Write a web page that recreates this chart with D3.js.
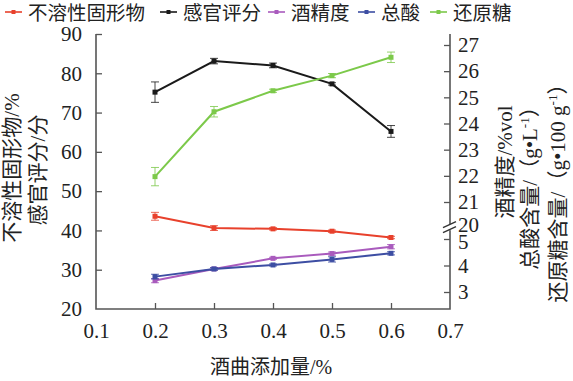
<!DOCTYPE html>
<html><head><meta charset="utf-8">
<script src="https://cdn.jsdelivr.net/npm/d3@7"></script>
<style>
html,body{margin:0;padding:0;background:#fff;}
svg{display:block;}
text{font-family:"Liberation Serif","Noto Sans CJK SC",serif;fill:#222;}
</style></head>
<body>
<svg id="c" width="573" height="381"></svg>
<script>
// ---- data ----
const doses = [0.2, 0.3, 0.4, 0.5, 0.6];
const solids = [43.6, 40.6, 40.4, 39.8, 38.2];
const solidsErr = [1.0, 0.6, 0.3, 0.3, 0.3];
const sensory = [75.2, 83.1, 82.0, 77.3, 65.2];
const sensoryErr = [2.6, 0.7, 0.6, 0.3, 1.5];
const alcohol = [3.43, 3.87, 4.27, 4.45, 4.71];
const alcoholErr = [0.08, 0.05, 0.04, 0.06, 0.08];
const acid = [3.58, 3.87, 4.02, 4.23, 4.46];
const acidErr = [0.09, 0.05, 0.04, 0.1, 0.06];
const sugar = [21.97, 24.45, 25.25, 25.83, 26.53];
const sugarErr = [0.35, 0.2, 0.06, 0.08, 0.2];

const xTicks = [0.1, 0.2, 0.3, 0.4, 0.5, 0.6, 0.7];
const leftTicks = [20, 30, 40, 50, 60, 70, 80, 90];
const rightLowTicks = [3, 4, 5];
const rightHighTicks = [20, 21, 22, 23, 24, 25, 26, 27];

const legendNames = ["不溶性固形物", "感官评分", "酒精度", "总酸", "还原糖"];
const colors = ["#e8412c", "#1a1a1a", "#a95bbd", "#3d4ea3", "#7cc94a"];

// ---- layout ----
const svg = d3.select("#c");
const L = 96, R = 450, T = 34, B = 309;
const x = d3.scaleLinear().domain([0.1, 0.7]).range([L, R]);
const yL = d3.scaleLinear().domain([20, 90]).range([B, T]);
const yLow = d3.scaleLinear().domain([3, 5]).range([292, 239]);
const yHigh = d3.scaleLinear().domain([21, 27]).range([202, 45]);
const axisColor = "#555";
const intFmt = d3.format("d");

// axes
const gx = svg.append("g").attr("transform", `translate(0,${B})`)
  .call(d3.axisBottom(x).tickValues(xTicks).tickSize(-6).tickPadding(14).tickFormat(d3.format(".1f")));
const gl = svg.append("g").attr("transform", `translate(${L},0)`)
  .call(d3.axisLeft(yL).tickValues(leftTicks).tickSize(-6).tickPadding(14).tickFormat(intFmt));
const gr1 = svg.append("g").attr("transform", `translate(${R},0)`)
  .call(d3.axisRight(yLow).tickValues(rightLowTicks).tickSize(-6).tickPadding(8).tickFormat(intFmt));
const gr2 = svg.append("g").attr("transform", `translate(${R},0)`)
  .call(d3.axisRight(yHigh).tickValues(rightHighTicks).tickSize(-6).tickPadding(8).tickFormat(intFmt));
[gx, gl, gr1, gr2].forEach(g => {
  g.select(".domain").remove();
  g.selectAll(".tick line").attr("stroke", axisColor).attr("stroke-width", 1.3);
  g.selectAll(".tick text").attr("font-size", 21).attr("fill", "#222")
    .style("font-family", "'Liberation Serif',serif");
});
gx.selectAll(".tick").filter(d => d === 0.1 || d === 0.7).select("line").remove();
gl.selectAll(".tick").filter(d => d === 20).select("line").remove();
gr2.selectAll(".tick").filter(d => d === 20).select("line").remove();
gr2.selectAll(".tick").filter(d => d === 20).select("text").attr("dy", "0.18em");
gr1.selectAll(".tick").filter(d => d === 5).select("text").attr("dy", "0.44em");

// axis frame lines
svg.append("path").attr("fill", "none").attr("stroke", axisColor).attr("stroke-width", 1.6)
  .attr("d", `M${L},${T}V${B}H${R}V${T}`);

// break symbol on right axis
const brY = yHigh(20) - 1;
svg.append("rect").attr("x", R - 3).attr("y", brY - 3).attr("width", 6).attr("height", 6).attr("fill", "#fff");
[-2.5, 2.5].forEach(o => {
  svg.append("line").attr("x1", R - 7).attr("y1", brY + o + 3).attr("x2", R + 6).attr("y2", brY + o - 3)
    .attr("stroke", "#333").attr("stroke-width", 1.4);
});

// series
const series = [
  {vals: solids, err: solidsErr, y: yL},
  {vals: sensory, err: sensoryErr, y: yL},
  {vals: alcohol, err: alcoholErr, y: yLow},
  {vals: acid, err: acidErr, y: yLow},
  {vals: sugar, err: sugarErr, y: yHigh}
];
series.forEach((s, i) => {
  const g = svg.append("g");
  const pts = doses.map((d, k) => [d, s.vals[k], s.err[k]]);
  g.selectAll("g.eb").data(pts).join("g").each(function(p) {
    const e = d3.select(this);
    const cx = x(p[0]), y1 = s.y(p[1] + p[2]), y2 = s.y(p[1] - p[2]);
    e.append("line").attr("x1", cx).attr("x2", cx).attr("y1", y1).attr("y2", y2)
      .attr("stroke", colors[i]).attr("stroke-width", 1).attr("opacity", 0.8);
    [y1, y2].forEach(yy => e.append("line").attr("x1", cx - 4).attr("x2", cx + 4).attr("y1", yy).attr("y2", yy)
      .attr("stroke", colors[i]).attr("stroke-width", 1).attr("opacity", 0.8));
  });
  g.append("path").datum(pts).attr("fill", "none").attr("stroke", colors[i]).attr("stroke-width", 2)
    .attr("d", d3.line().x(p => x(p[0])).y(p => s.y(p[1])));
  g.selectAll("rect.m").data(pts).join("rect")
    .attr("x", p => x(p[0]) - 2.5).attr("y", p => s.y(p[1]) - 2.5).attr("width", 5).attr("height", 5)
    .attr("fill", colors[i]);
});

// legend
const legX = [5, 160, 268, 358, 430];
legendNames.forEach((n, i) => {
  const g = svg.append("g").attr("transform", `translate(${legX[i]},12)`);
  g.append("line").attr("x1", 0).attr("x2", 17).attr("y1", 0).attr("y2", 0).attr("stroke", colors[i]).attr("stroke-width", 1.6);
  g.append("rect").attr("x", 6.5).attr("y", -2).attr("width", 4).attr("height", 4).attr("fill", colors[i]);
  g.append("text").attr("x", 23).attr("y", 8).attr("font-size", 19.5).text(n);
});

// axis titles
svg.append("text").attr("x", (L + R) / 2 - 2).attr("y", 374).attr("text-anchor", "middle")
  .attr("font-size", 20).text("酒曲添加量/%");

function vtext(cx, cy, parts) {
  const t = svg.append("text").attr("transform", `translate(${cx},${cy}) rotate(-90)`)
    .attr("text-anchor", "middle").attr("font-size", 21);
  parts.forEach(p => {
    const ts = t.append("tspan").text(p.t);
    if (p.sup) ts.attr("font-size", 13).attr("dy", -8);
    if (p.after) ts.attr("dy", 8);
  });
  return t;
}
vtext(19, 168, [{t: "不溶性固形物/%"}]);
vtext(45, 170, [{t: "感官评分/分"}]);
vtext(512, 162, [{t: "酒精度/%vol"}]);
vtext(537, 183, [{t: "总酸含量/（g•L"}, {t: "-1", sup: true}, {t: "）", after: true}]);
vtext(565, 188, [{t: "还原糖含量/（g•100 g"}, {t: "-1", sup: true}, {t: "）", after: true}]);
</script>
</body></html>
